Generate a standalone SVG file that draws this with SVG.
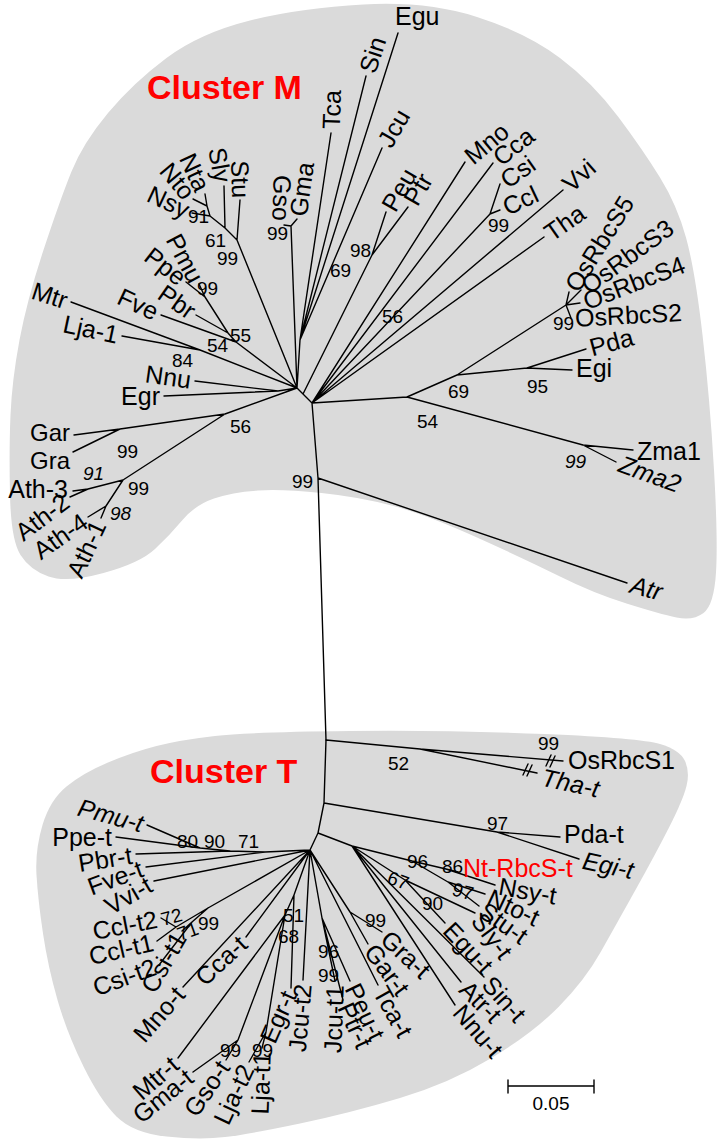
<svg xmlns="http://www.w3.org/2000/svg" width="721" height="1144" viewBox="0 0 721 1144">
<style>
.bg{fill:#dadada;stroke:none}
.br{stroke:#000;stroke-width:1.4;fill:none;stroke-linecap:round}
.lb{font-family:"Liberation Sans",Arial,sans-serif;font-size:25px;fill:#000}
.sm{font-size:24px}
.bs{font-family:"Liberation Sans",Arial,sans-serif;font-size:19px;fill:#000}
.e{text-anchor:end}
.it{font-style:italic}
.cl{font-family:"Liberation Sans",Arial,sans-serif;font-size:34px;font-weight:bold;fill:#f00}
.red{fill:#f00}
</style>
<rect width="721" height="1144" fill="#fff"/>
<g id="clusters">
<path id="clusterM-area" class="bg" d="M363.5,4.5 Q427,1 477,17 Q527,33 560,58 Q593,83 618,116.5 Q643,150 660,177.5 Q677,205 686,237.5 Q695,270 702.5,335 Q710,400 714,470 Q718,540 716,572.5 Q714,605 703.5,613 Q693,621 676.5,617.5 Q660,614 626.5,603.5 Q593,593 560,576.5 Q527,560 477,537.5 Q427,515 393.5,506 Q360,497 321.5,493 Q283,489 258,490.5 Q233,492 214,498.5 Q195,505 182.5,520 Q170,535 155,549 Q140,563 103.5,573 Q67,583 48.5,576.5 Q30,570 20.5,555 Q11,540 10,495 Q9,450 10.5,415 Q12,380 19.5,340 Q27,300 43.5,250 Q60,200 71.5,171.5 Q83,143 108,113 Q133,83 166.5,58 Q200,33 250,20.5 Q300,8 363.5,4.5 Z"/>
<path id="clusterT-area" class="bg" d="M215,736 Q250,732 350,731 Q450,730 545,734 Q640,738 660,744 Q680,750 685,761 Q690,772 686.5,786 Q683,800 669,827.5 Q655,855 636,889 Q617,923 601,951.5 Q585,980 559,1006.5 Q533,1033 491.5,1058 Q450,1083 400,1098 Q350,1113 300,1123.5 Q250,1134 225,1137 Q200,1140 166.5,1136.5 Q133,1133 116.5,1116.5 Q100,1100 83.5,1066.5 Q67,1033 57.5,1000 Q48,967 43,933.5 Q38,900 36.5,875 Q35,850 42.5,825 Q50,800 66.5,786.5 Q83,773 108,762.5 Q133,752 156.5,746 Q180,740 215,736 Z"/>
<text class="cl" x="147" y="99">Cluster M</text>
<text class="cl" x="150" y="783">Cluster T</text>
</g>
<g id="connectors">
<path class="br" d="M297,388L312,403 M297,388L291,226 M291,226L297,219 M291,226L284,225 M297,388L300,340 M300,340L331,133 M300,340L366,76 M300,340L398,33 M300,340L382,148 M303,394L372,255 M372,255L386,212 M372,255L408,207 M312,403L465,162 M312,403L493,163 M312,403L490,214 M490,214L500,184 M490,214L500,210 M312,403L563,190 M312,403L544,237 M297,388L237,240 M237,240L240,200 M237,240L225,228 M225,228L224,186 M225,228L210,216 M210,216L192,213 M210,216L207,206 M207,206L193,199 M207,206L205,194 M297,388L236,342 M236,342L161,315 M236,342L228,333 M228,333L196,315 M228,333L205,297 M205,297L199,284 M205,297L186,282 M297,388L200,350 M200,350L71,302 M200,350L122,336 M297,388L278,391 M278,391L195,381 M278,391L164,396 M297,388L225,414 M225,414L120,429 M120,429L74,435 M120,429L73,452 M225,414L123,480 M123,480L88,489 M88,489L73,491 M88,489L70,497 M123,480L106,506 M106,506L88,517 M106,506L101,518 M312,403L318,478 M318,478L326,740 M318,478L627,583 M312,403L407,397 M407,397L457,375 M407,397L583,445 M583,445L633,450 M583,445L616,462 M457,375L527,368 M527,368L572,370 M527,368L586,349 M457,375L566,305 M566,305L569,292 M566,305L581,290 M566,305L580,303 M566,305L571,318"/>
<path class="br" d="M326,740L324,803 M324,803L318,833 M318,833L310,850 M326,740L420,749 M420,749L563,761 M420,749L537,773 M324,803L497,832 M497,832L560,837 M497,832L579,859 M318,833L352,846 M352,846L412,861 M412,861L446,869 M446,869L458,872 M446,869L495,885 M412,861L448,882 M448,882L485,894 M448,882L479,906 M352,846L405,880 M405,880L475,913 M405,880L445,923 M352,846L484,977 M352,846L461,982 M352,846L455,1005 M310,850L350,912 M350,912L382,932 M350,912L368,944 M310,850L378,985 M310,850L322,918 M322,918L350,981 M322,918L343,1000 M322,918L335,981 M310,850L303,980 M310,850L294,895 M294,895L291,988 M294,895L285,915 M285,915L178,1058 M285,915L238,1040 M238,1040L193,1072 M238,1040L226,1060 M285,915L266,1032 M266,1032L249,1062 M266,1032L262,1048 M310,850L208,908 M208,908L176,927 M176,927L161,918 M176,927L157,941 M208,908L192,922 M192,922L182,931 M192,922L159,965 M310,850L246,937 M310,850L183,987 M310,850L154,881 M310,850L265,852 M265,852L146,867 M265,852L230,851 M230,851L136,854 M230,851L200,848 M200,848L116,837 M200,848L147,825"/>
<path class="br" d="M546,766L551,755 M550,767L555,756 M523,775L528,764 M527,776L532,765"/>
</g>
<g id="leaves-M">
<g id="leaf-Egu"><text class="lb" x="395" y="25">Egu</text></g>
<g id="leaf-Sin"><text class="lb" transform="translate(367,72) rotate(-72)" dy="0.35em">Sin</text></g>
<g id="leaf-Tca"><text class="lb" transform="translate(331,129) rotate(-88)" dy="0.35em">Tca</text></g>
<g id="leaf-Gma"><text class="lb" transform="translate(298,216) rotate(-82)" dy="0.35em">Gma</text></g>
<g id="leaf-Gso"><text class="lb e" transform="translate(281,221) rotate(92)" dy="0.35em">Gso</text></g>
<g id="leaf-Jcu"><text class="lb" transform="translate(384,145) rotate(-60)" dy="0.35em">Jcu</text></g>
<g id="leaf-Peu"><text class="lb" transform="translate(388,209) rotate(-60)" dy="0.35em">Peu</text></g>
<g id="leaf-Ptr"><text class="lb" transform="translate(410,203) rotate(-60)" dy="0.35em">Ptr</text></g>
<g id="leaf-Mno"><text class="lb" transform="translate(468,159) rotate(-40)" dy="0.35em">Mno</text></g>
<g id="leaf-Cca"><text class="lb" transform="translate(496,160) rotate(-38)" dy="0.35em">Cca</text></g>
<g id="leaf-Csi"><text class="lb" transform="translate(503,182) rotate(-35)" dy="0.35em">Csi</text></g>
<g id="leaf-Ccl"><text class="lb" transform="translate(504,208) rotate(-25)" dy="0.35em">Ccl</text></g>
<g id="leaf-Vvi"><text class="lb" transform="translate(566,187) rotate(-42)" dy="0.35em">Vvi</text></g>
<g id="leaf-Tha"><text class="lb" transform="translate(547,235) rotate(-35)" dy="0.35em">Tha</text></g>
<g id="leaf-OsRbcS5"><text class="lb" transform="translate(571,289) rotate(-58)" dy="0.35em">OsRbcS5</text></g>
<g id="leaf-OsRbcS3"><text class="lb" transform="translate(584,288) rotate(-36)" dy="0.35em">OsRbcS3</text></g>
<g id="leaf-OsRbcS4"><text class="lb" transform="translate(584,302) rotate(-21)" dy="0.35em">OsRbcS4</text></g>
<g id="leaf-OsRbcS2"><text class="lb" transform="translate(575,318) rotate(-3)" dy="0.35em">OsRbcS2</text></g>
<g id="leaf-Pda"><text class="lb" transform="translate(590,348) rotate(-15)" dy="0.35em">Pda</text></g>
<g id="leaf-Egi"><text class="lb" x="576" y="377">Egi</text></g>
<g id="leaf-Zma1"><text class="lb" x="637" y="460">Zma1</text></g>
<g id="leaf-Zma2"><text class="lb it" transform="translate(620,463) rotate(20)" dy="0.35em">Zma2</text></g>
<g id="leaf-Atr"><text class="lb it" transform="translate(631,584) rotate(15)" dy="0.35em">Atr</text></g>
<g id="leaf-Mtr"><text class="lb e" transform="translate(67,301) rotate(18)" dy="0.35em">Mtr</text></g>
<g id="leaf-Lja-1"><text class="lb e" transform="translate(118,335) rotate(12)" dy="0.35em">Lja-1</text></g>
<g id="leaf-Fve"><text class="lb e" transform="translate(157,313) rotate(25)" dy="0.35em">Fve</text></g>
<g id="leaf-Pbr"><text class="lb e" transform="translate(193,313) rotate(35)" dy="0.35em">Pbr</text></g>
<g id="leaf-Ppe"><text class="lb e" transform="translate(183,280) rotate(38)" dy="0.35em">Ppe</text></g>
<g id="leaf-Pmu"><text class="lb e" transform="translate(197,281) rotate(62)" dy="0.35em">Pmu</text></g>
<g id="leaf-Nsy"><text class="lb e" transform="translate(188,211) rotate(25)" dy="0.35em">Nsy</text></g>
<g id="leaf-Nto"><text class="lb e" transform="translate(190,196) rotate(50)" dy="0.35em">Nto</text></g>
<g id="leaf-Nta"><text class="lb e" transform="translate(203,190) rotate(65)" dy="0.35em">Nta</text></g>
<g id="leaf-Sly"><text class="lb e" transform="translate(223,182) rotate(80)" dy="0.35em">Sly</text></g>
<g id="leaf-Stu"><text class="lb e" transform="translate(241,198) rotate(88)" dy="0.35em">Stu</text></g>
<g id="leaf-Nnu"><text class="lb e" transform="translate(191,380) rotate(8)" dy="0.35em">Nnu</text></g>
<g id="leaf-Egr"><text class="lb e" x="160" y="405">Egr</text></g>
<g id="leaf-Gar"><text class="lb sm e" x="70" y="441">Gar</text></g>
<g id="leaf-Gra"><text class="lb sm e" x="70" y="469">Gra</text></g>
<g id="leaf-Ath-3"><text class="lb e" x="68" y="498">Ath-3</text></g>
<g id="leaf-Ath-2"><text class="lb e" transform="translate(66,499) rotate(-37)" dy="0.35em">Ath-2</text></g>
<g id="leaf-Ath-4"><text class="lb e" transform="translate(85,519) rotate(-35)" dy="0.35em">Ath-4</text></g>
<g id="leaf-Ath-1"><text class="lb e" transform="translate(99,522) rotate(-65)" dy="0.35em">Ath-1</text></g>
</g>
<g id="leaves-T">
<g id="leaf-OsRbcS1"><text class="lb" x="568" y="769">OsRbcS1</text></g>
<g id="leaf-Tha-t"><text class="lb it" transform="translate(542,777) rotate(12)" dy="0.35em">Tha-t</text></g>
<g id="leaf-Pda-t"><text class="lb" x="564" y="843">Pda-t</text></g>
<g id="leaf-Egi-t"><text class="lb it" transform="translate(583,860) rotate(12)" dy="0.35em">Egi-t</text></g>
<g id="leaf-Nt-RbcS-t"><text class="lb red" x="463" y="877">Nt-RbcS-t</text></g>
<g id="leaf-Nsy-t"><text class="lb" transform="translate(499,886) rotate(10)" dy="0.35em">Nsy-t</text></g>
<g id="leaf-Nto-t"><text class="lb" transform="translate(489,896) rotate(25)" dy="0.35em">Nto-t</text></g>
<g id="leaf-Stu-t"><text class="lb" transform="translate(482,908) rotate(35)" dy="0.35em">Stu-t</text></g>
<g id="leaf-Sly-t"><text class="lb" transform="translate(477,916) rotate(53)" dy="0.35em">Sly-t</text></g>
<g id="leaf-Egu-t"><text class="lb" transform="translate(448,926) rotate(47)" dy="0.35em">Egu-t</text></g>
<g id="leaf-Sin-t"><text class="lb" transform="translate(487,980) rotate(48)" dy="0.35em">Sin-t</text></g>
<g id="leaf-Atr-t"><text class="lb" transform="translate(464,985) rotate(45)" dy="0.35em">Atr-t</text></g>
<g id="leaf-Nnu-t"><text class="lb" transform="translate(458,1008) rotate(49)" dy="0.35em">Nnu-t</text></g>
<g id="leaf-Gra-t"><text class="lb" transform="translate(385,935) rotate(43)" dy="0.35em">Gra-t</text></g>
<g id="leaf-Gar-t"><text class="lb" transform="translate(370,947) rotate(53)" dy="0.35em">Gar-t</text></g>
<g id="leaf-Tca-t"><text class="lb" transform="translate(380,988) rotate(61)" dy="0.35em">Tca-t</text></g>
<g id="leaf-Peu-t"><text class="lb" transform="translate(352,985) rotate(64)" dy="0.35em">Peu-t</text></g>
<g id="leaf-Ptr-t"><text class="lb" transform="translate(345,1004) rotate(65)" dy="0.35em">Ptr-t</text></g>
<g id="leaf-Jcu-t1"><text class="lb e" transform="translate(335,985) rotate(-88)" dy="0.35em">Jcu-t1</text></g>
<g id="leaf-Jcu-t2"><text class="lb e" transform="translate(303,984) rotate(-85)" dy="0.35em">Jcu-t2</text></g>
<g id="leaf-Egr-t"><text class="lb e" transform="translate(289,992) rotate(-66)" dy="0.35em">Egr-t</text></g>
<g id="leaf-Lja-t1"><text class="lb e" transform="translate(262,1052) rotate(-88)" dy="0.35em">Lja-t1</text></g>
<g id="leaf-Lja-t2"><text class="lb e" transform="translate(247,1066) rotate(-65)" dy="0.35em">Lja-t2</text></g>
<g id="leaf-Gso-t"><text class="lb e" transform="translate(224,1063) rotate(-56)" dy="0.35em">Gso-t</text></g>
<g id="leaf-Gma-t"><text class="lb e" transform="translate(190,1074) rotate(-39)" dy="0.35em">Gma-t</text></g>
<g id="leaf-Mtr-t"><text class="lb e" transform="translate(175,1061) rotate(-41)" dy="0.35em">Mtr-t</text></g>
<g id="leaf-Mno-t"><text class="lb e" transform="translate(180,990) rotate(-49)" dy="0.35em">Mno-t</text></g>
<g id="leaf-Cca-t"><text class="lb e" transform="translate(243,940) rotate(-43)" dy="0.35em">Cca-t</text></g>
<g id="leaf-Csi-t1"><text class="lb e" transform="translate(180,934) rotate(-60)" dy="0.35em">Csi-t1</text></g>
<g id="leaf-Csi-t2"><text class="lb e" transform="translate(155,966) rotate(-20)" dy="0.35em">Csi-t2</text></g>
<g id="leaf-Ccl-t1"><text class="lb e" transform="translate(153,942) rotate(-13)" dy="0.35em">Ccl-t1</text></g>
<g id="leaf-Ccl-t2"><text class="lb e" transform="translate(157,919) rotate(-11)" dy="0.35em">Ccl-t2</text></g>
<g id="leaf-Vvi-t"><text class="lb e" transform="translate(150,883) rotate(-30)" dy="0.35em">Vvi-t</text></g>
<g id="leaf-Fve-t"><text class="lb e" transform="translate(142,868) rotate(-20)" dy="0.35em">Fve-t</text></g>
<g id="leaf-Pbr-t"><text class="lb e" transform="translate(132,855) rotate(-9)" dy="0.35em">Pbr-t</text></g>
<g id="leaf-Ppe-t"><text class="lb e" x="112" y="846">Ppe-t</text></g>
<g id="leaf-Pmu-t"><text class="lb e it" transform="translate(143,824) rotate(15)" dy="0.35em">Pmu-t</text></g>
</g>
<g id="bootstrap-M">
<text class="bs" x="188" y="223">91</text>
<text class="bs" x="205" y="247">61</text>
<text class="bs" x="217" y="265">99</text>
<text class="bs" x="197" y="295">99</text>
<text class="bs" x="230" y="342">55</text>
<text class="bs" x="207" y="352">54</text>
<text class="bs" x="172" y="367">84</text>
<text class="bs" x="267" y="240">99</text>
<text class="bs" x="330" y="277">69</text>
<text class="bs" x="350" y="257">98</text>
<text class="bs" x="382" y="323">56</text>
<text class="bs" x="488" y="232">99</text>
<text class="bs" x="553" y="330">99</text>
<text class="bs" x="448" y="398">69</text>
<text class="bs" x="527" y="393">95</text>
<text class="bs" x="417" y="428">54</text>
<text class="bs it" x="565" y="468">99</text>
<text class="bs" x="230" y="433">56</text>
<text class="bs" x="117" y="458">99</text>
<text class="bs it" x="83" y="480">91</text>
<text class="bs" x="128" y="495">99</text>
<text class="bs it" x="110" y="520">98</text>
<text class="bs" x="292" y="488">99</text>
</g>
<g id="bootstrap-T">
<text class="bs" x="538" y="750">99</text>
<text class="bs" x="388" y="770">52</text>
<text class="bs" x="487" y="830">97</text>
<text class="bs" x="407" y="868">96</text>
<text class="bs" x="442" y="873">86</text>
<text class="bs" transform="translate(386,883) rotate(20)">67</text>
<text class="bs" transform="translate(451,895) rotate(15)">97</text>
<text class="bs" x="422" y="910">90</text>
<text class="bs" x="365" y="927">99</text>
<text class="bs" x="318" y="958">96</text>
<text class="bs" x="318" y="982">99</text>
<text class="bs" x="283" y="922">51</text>
<text class="bs" x="278" y="943">68</text>
<text class="bs" x="252" y="1057">99</text>
<text class="bs" x="220" y="1057">99</text>
<text class="bs" transform="translate(163,926) rotate(-15)">72</text>
<text class="bs" transform="translate(180,941) rotate(-20)">71</text>
<text class="bs" x="198" y="930">99</text>
<text class="bs" x="177" y="848">80</text>
<text class="bs" x="204" y="848">90</text>
<text class="bs" x="238" y="848">71</text>
</g>
<g id="scale-bar">
<path class="br" d="M508,1086L594,1086 M508,1080L508,1093 M594,1080L594,1093"/>
<text class="bs" x="551" y="1110" text-anchor="middle">0.05</text>
</g>
</svg>
